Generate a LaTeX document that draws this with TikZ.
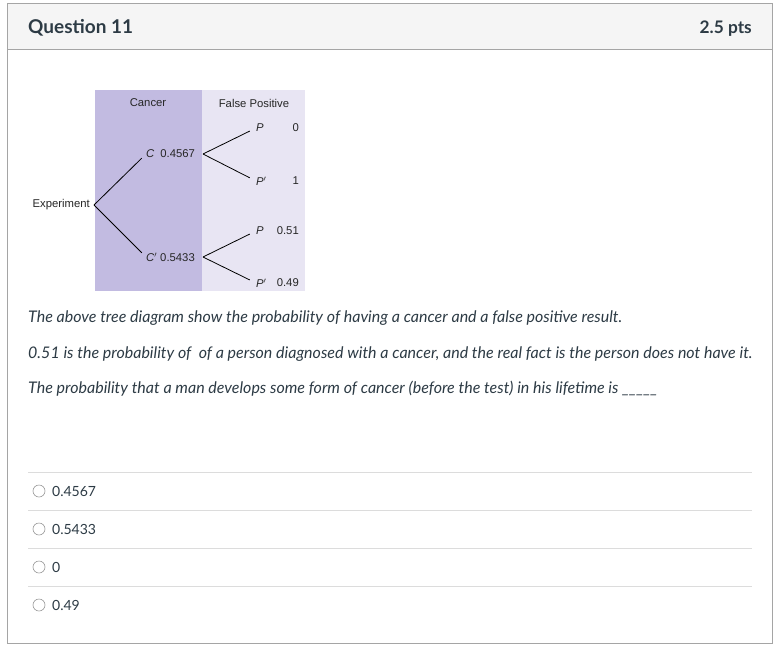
\documentclass[tikz,border=0pt]{standalone}
\usepackage{fontspec}
\setmainfont{Lato}
\newfontfamily\diagfont{Liberation Sans}
\definecolor{canvastext}{HTML}{2D3B45}
\definecolor{headbg}{HTML}{F5F5F5}
\definecolor{bordergray}{HTML}{A5A5A5}
\definecolor{divgray}{HTML}{DCDCDC}
\definecolor{purpdark}{HTML}{C2BBE1}
\definecolor{purplight}{HTML}{E8E5F3}
\tikzset{
  qtext/.style={anchor=base west, inner sep=0pt, font=\fontsize{16}{19}\selectfont\itshape, text=canvastext},
  dlabel/.style={inner sep=0pt, font=\diagfont\fontsize{11.3}{13}\selectfont, text=black!85},
  branch/.style={draw=black, line width=0.8pt},
  opttext/.style={anchor=base west, inner sep=0pt, font=\fontsize{14}{17}\selectfont, text=canvastext},
  radio/.style={draw=gray!80, line width=0.6pt, circle, minimum size=12pt, inner sep=0pt},
  divider/.style={draw=divgray, line width=0.8pt}
}
\begin{document}
\begin{tikzpicture}[x=1pt,y=-1pt]
\useasboundingbox (0,0) rectangle (774,646);
\fill[white] (0,0) rectangle (774,646);
% header
\fill[headbg] (7,3) rectangle (772,49);
\draw[bordergray, line width=1pt] (7,3) rectangle (772,643);
\draw[bordergray, line width=1pt] (7,49) -- (772,49);
\node[anchor=base west, inner sep=0pt, font=\fontsize{19}{23}\selectfont\bfseries, text=canvastext] (qtitle) at (28,33) {Question 11};
\node[anchor=base east, inner sep=0pt, font=\fontsize{17.3}{21}\selectfont\bfseries, text=canvastext] (pts) at (752,33) {2.5 pts};
% diagram backgrounds
\fill[purpdark] (95,90) rectangle (202,291);
\fill[purplight] (202,90) rectangle (305,291);
\node[dlabel] (hcancer) at (148,103) {Cancer};
\node[dlabel] (hfp) at (254,103) {False Positive};
\node[dlabel, anchor=east] (exp) at (90,205) {Experiment};
\coordinate (root) at (94,205);
\node[dlabel, anchor=west] (c) at (146,154) {\textit{C}\hspace{6pt}0.4567};
\node[dlabel, anchor=west] (cp) at (146,257) {\textit{C}$'$\hspace{3pt}0.5433};
\coordinate (cout) at (203,154);
\coordinate (cpout) at (203,257);
\node[dlabel, anchor=west] (p1) at (256,128) {\textit{P}};
\node[dlabel, anchor=west] (p1p) at (256,181) {\textit{P}$'$};
\node[dlabel, anchor=west] (p2) at (256,231) {\textit{P}};
\node[dlabel, anchor=west] (p2p) at (256,283) {\textit{P}$'$};
\node[dlabel, anchor=east] (v1) at (299,128) {0};
\node[dlabel, anchor=east] (v2) at (299,181) {1};
\node[dlabel, anchor=east] (v3) at (299,231) {0.51};
\node[dlabel, anchor=east] (v4) at (299,283) {0.49};
\draw[branch, shorten >=6pt] (root) -- (c.west);
\draw[branch, shorten >=6pt] (root) -- (cp.west);
\draw[branch, shorten >=7pt] (cout) -- (p1.west);
\draw[branch, shorten >=7pt] (cout) -- (p1p.west);
\draw[branch, shorten >=7pt] (cpout) -- (p2.west);
\draw[branch, shorten >=7pt] (cpout) -- (p2p.west);
% question text
\node[qtext] (t1) at (28,322) {The above tree diagram show the probability of having a cancer and a false positive result.};
\node[qtext] (t2) at (28,358) {0.51 is the probability of\ \ of a person diagnosed with a cancer, and the real fact is the person does not have it.};
\node[qtext] (t3) at (28,393) {The probability that a man develops some form of cancer (before the test) in his lifetime is \_\_\_\_\_};
% options
\draw[divider] (28,472) -- (752,472);
\draw[divider] (28,510) -- (752,510);
\draw[divider] (28,548) -- (752,548);
\draw[divider] (28,586) -- (752,586);
\node[radio] (r1) at (39,491) {};
\node[radio] (r2) at (39,529) {};
\node[radio] (r3) at (39,567) {};
\node[radio] (r4) at (39,605) {};
\node[opttext] (o1) at (52,496) {0.4567};
\node[opttext] (o2) at (52,534) {0.5433};
\node[opttext] (o3) at (52,572) {0};
\node[opttext] (o4) at (52,610) {0.49};
\end{tikzpicture}
\end{document}
